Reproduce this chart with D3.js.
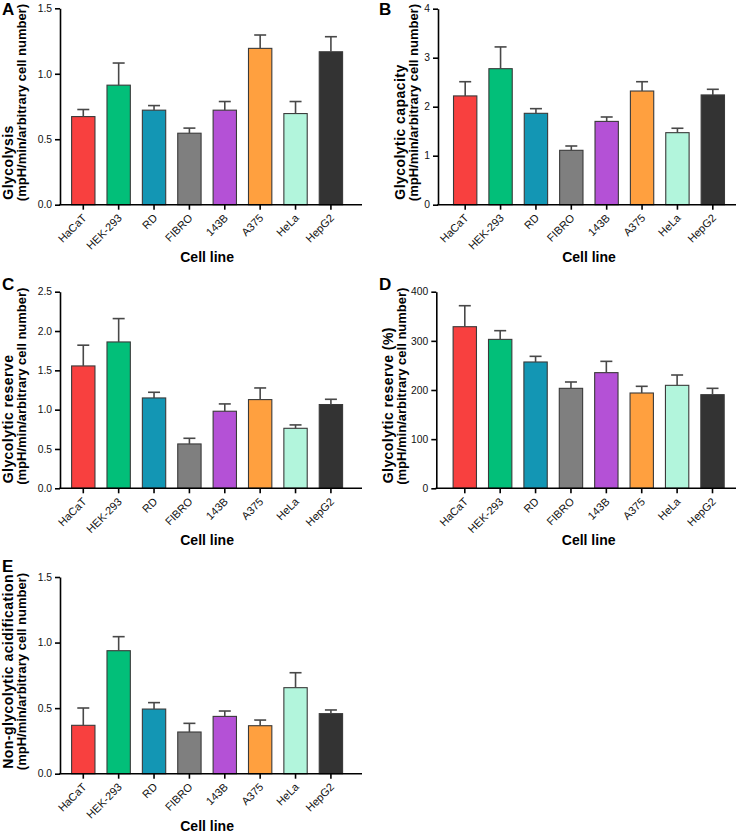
<!DOCTYPE html>
<html><head><meta charset="utf-8">
<script src="https://cdn.jsdelivr.net/npm/d3@7"></script>
<style>
html,body{margin:0;padding:0;background:#fff;}
svg{display:block;font-family:"Liberation Sans",Arial,sans-serif;}
</style></head>
<body>
<svg id="chart" width="738" height="834"></svg>
<script>
const categories = ["HaCaT","HEK-293","RD","FIBRO","143B","A375","HeLa","HepG2"];
const colors = ["#F8403F","#02BF79","#1396B4","#7F7F7F","#B451D6","#FFA03F","#B2F5DC","#333333"];

const glycolysis      = [0.673, 0.913, 0.722, 0.546, 0.722, 1.194, 0.696, 1.168];
const glycolysisErr   = [0.054, 0.169, 0.035, 0.039, 0.066, 0.102, 0.092, 0.115];
const capacity        = [2.22, 2.776, 1.865, 1.11, 1.70, 2.32, 1.47, 2.24];
const capacityErr     = [0.29, 0.444, 0.095, 0.088, 0.09, 0.19, 0.09, 0.115];
const reserve         = [1.556, 1.861, 1.149, 0.564, 0.98, 1.128, 0.763, 1.065];
const reserveErr      = [0.264, 0.297, 0.072, 0.072, 0.093, 0.148, 0.043, 0.067];
const reservePct      = [328.8, 303, 257, 203.4, 235.3, 193.9, 209.5, 190.5];
const reservePctErr   = [42.7, 17.7, 11.5, 12.9, 23, 13.6, 21, 12.9];
const nonGlyco        = [0.369, 0.938, 0.493, 0.318, 0.437, 0.366, 0.656, 0.458];
const nonGlycoErr     = [0.132, 0.107, 0.049, 0.066, 0.041, 0.043, 0.114, 0.028];

const panels = [
  {letter:"A", l1:"Glycolysis", vals:glycolysis, errs:glycolysisErr, max:1.5, ticks:[0,0.5,1.0,1.5], fmt:".1f",
   axisX:60, xEnd:362, band:[65.6,348.6], yTop:8.3, yBot:204.7, lx:2, ly:15, lab1:12.7, lab2:25.5},
  {letter:"B", l1:"Glycolytic capacity", vals:capacity, errs:capacityErr, max:4, ticks:[0,1,2,3,4], fmt:"d",
   axisX:438, xEnd:736, band:[447.5,730.5], yTop:8.7, yBot:204.7, lx:379, ly:15, lab1:405, lab2:418},
  {letter:"C", l1:"Glycolytic reserve", vals:reserve, errs:reserveErr, max:2.5, ticks:[0,0.5,1.0,1.5,2.0,2.5], fmt:".1f",
   axisX:60, xEnd:362, band:[65.6,348.6], yTop:291.7, yBot:488.3, lx:2, ly:290, lab1:12.7, lab2:25.5},
  {letter:"D", l1:"Glycolytic reserve (%)", vals:reservePct, errs:reservePctErr, max:400, ticks:[0,100,200,300,400], fmt:"d",
   axisX:436.3, xEnd:736, band:[447.1,730.2], yTop:291.7, yBot:488.3, lx:379, ly:290, lab1:393.3, lab2:406.3},
  {letter:"E", l1:"Non-glycolytic acidification", vals:nonGlyco, errs:nonGlycoErr, max:1.5, ticks:[0,0.5,1.0,1.5], fmt:".1f",
   axisX:60, xEnd:362, band:[65.6,348.6], yTop:577, yBot:773.7, lx:2, ly:572, lab1:13, lab2:26}
];
const line2 = "(mpH/min/arbitrary cell number)";
const svg = d3.select("#chart");

panels.forEach(p => {
  const g = svg.append("g");
  const x = d3.scaleBand().domain(categories).range(p.band).paddingInner(0.34).paddingOuter(0.17);
  const y = d3.scaleLinear().domain([0, p.max]).range([p.yBot, p.yTop]);

  // bars
  g.selectAll("rect.bar").data(categories).enter().append("rect")
    .attr("x", d => x(d)).attr("width", x.bandwidth())
    .attr("y", (d,i) => y(p.vals[i])).attr("height", (d,i) => y(0) - y(p.vals[i]))
    .attr("fill", (d,i) => colors[i]).attr("stroke", "#3a3a3a").attr("stroke-width", 1.1);

  // error bars (upper)
  const eb = g.selectAll("g.err").data(categories).enter().append("g")
    .attr("stroke", "#484848").attr("stroke-width", 1.6);
  eb.append("line")
    .attr("x1", d => x(d) + x.bandwidth()/2).attr("x2", d => x(d) + x.bandwidth()/2)
    .attr("y1", (d,i) => y(p.vals[i])).attr("y2", (d,i) => y(p.vals[i] + p.errs[i]));
  eb.append("line")
    .attr("x1", d => x(d) + x.bandwidth()/2 - 6).attr("x2", d => x(d) + x.bandwidth()/2 + 6)
    .attr("y1", (d,i) => y(p.vals[i] + p.errs[i])).attr("y2", (d,i) => y(p.vals[i] + p.errs[i]));

  // y axis
  const ya = g.append("g").attr("transform", `translate(${p.axisX},0)`)
    .call(d3.axisLeft(y).tickValues(p.ticks).tickFormat(d3.format(p.fmt)).tickSize(5).tickSizeOuter(0).tickPadding(3));
  ya.select(".domain").attr("stroke", "#000").attr("stroke-width", 1.6);
  ya.selectAll(".tick line").attr("stroke", "#000").attr("stroke-width", 1.6);
  ya.selectAll(".tick text").attr("font-size", 10.3).attr("fill", "#111");

  // x axis
  const xa = g.append("g").attr("transform", `translate(0,${p.yBot})`)
    .call(d3.axisBottom(x).tickSize(5).tickSizeOuter(0));
  xa.select(".domain").remove();
  xa.selectAll(".tick line").attr("stroke", "#000").attr("stroke-width", 1.6);
  xa.selectAll(".tick text").attr("font-size", 11).attr("fill", "#111")
    .attr("text-anchor", "end").attr("dy", 0).attr("y", 0)
    .attr("transform", "translate(4,14) rotate(-45)");
  g.append("line").attr("x1", p.axisX - 0.8).attr("x2", p.xEnd)
    .attr("y1", p.yBot).attr("y2", p.yBot).attr("stroke", "#000").attr("stroke-width", 1.6);

  // axis titles
  g.append("text").attr("x", (p.band[0]+p.band[1])/2).attr("y", p.yBot + 57)
    .attr("text-anchor", "middle").attr("font-weight", "bold").attr("font-size", 14).text("Cell line");
  g.append("text").attr("transform", `translate(${p.lab1},${p.yBot - 5}) rotate(-90)`)
    .attr("text-anchor", "start").attr("font-weight", "bold").attr("font-size", 14)
    .attr("letter-spacing", 0.45).text(p.l1);
  g.append("text").attr("transform", `translate(${p.lab2},${p.yBot - 3.5}) rotate(-90)`)
    .attr("text-anchor", "start").attr("font-weight", "bold").attr("font-size", 13).text(line2);

  // panel letter
  g.append("text").attr("x", p.lx).attr("y", p.ly).attr("font-weight", "bold").attr("font-size", 17).text(p.letter);
});
</script>
</body></html>
